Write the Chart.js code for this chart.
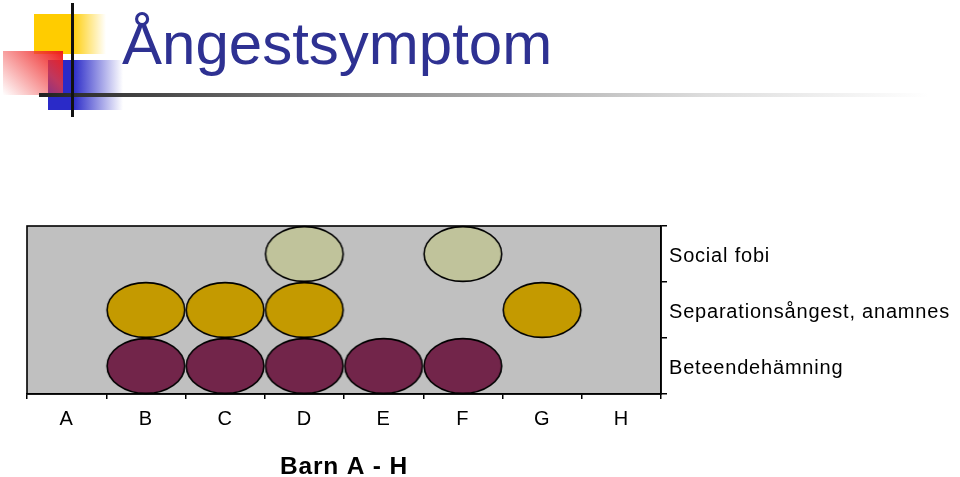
<!DOCTYPE html>
<html lang="sv">
<head>
<meta charset="UTF-8">
<title>Ångestsymptom</title>
<script src="https://cdn.jsdelivr.net/npm/chart.js"></script>
<style>
  html, body { margin: 0; padding: 0; background: #fff; }
  #wrap { position: relative; width: 960px; height: 477px; overflow: hidden; }
  .deco { position: absolute; }
  #yellow { left: 34px; top: 14px; width: 72px; height: 40px;
    background: linear-gradient(to right, #ffcc00 0%, #ffcc00 52%, rgba(255,204,0,0) 100%); }
  #blue { left: 48px; top: 60px; width: 75px; height: 50px;
    background: linear-gradient(to right, #2a2ac8 0%, #2a2ac8 33%, rgba(42,42,200,0) 100%); }
  #red { left: 3px; top: 51px; width: 60px; height: 44px;
    background: linear-gradient(225deg, #ee1c1c 0%, rgba(240,60,60,0.75) 35%, rgba(255,255,255,0) 100%); }
  #hline { left: 39px; top: 93px; width: 890px; height: 4px;
    background: linear-gradient(to right, #222 0%, #888 35%, #ddd 75%, rgba(255,255,255,0) 100%); }
  #vline { left: 71px; top: 3px; width: 3px; height: 114px; background: #111; }
  #title { position: absolute; left: 122px; top: 14px; margin: 0;
    font: 60px/60px "Liberation Sans", Arial, sans-serif; color: #2e3192; font-weight: normal; }
  canvas { position: absolute; left: 0; top: 0; }
</style>
</head>
<body>
<div id="wrap">
  <div class="deco" id="yellow"></div>
  <div class="deco" id="blue"></div>
  <div class="deco" id="red"></div>
  <div class="deco" id="hline"></div>
  <div class="deco" id="vline"></div>
  <h1 id="title">Ångestsymptom</h1>
  <canvas id="chart" width="960" height="477"></canvas>
</div>

<script>
  const children = ['A', 'B', 'C', 'D', 'E', 'F', 'G', 'H'];
  // top to bottom
  const symptoms = ['Social fobi', 'Separationsångest, anamnes', 'Beteendehämning'];
  const socialFobi        = [0, 0, 0, 1, 0, 1, 0, 0];
  const separationsangest = [0, 1, 1, 1, 0, 0, 1, 0];
  const beteendehamning   = [0, 1, 1, 1, 1, 1, 0, 0];

  const seriesColors = ['#c0c39b', '#c49a00', '#72254a'];

  function ellipse(color) {
    const c = document.createElement('canvas');
    c.width = 82; c.height = 60;
    const g = c.getContext('2d');
    g.beginPath();
    g.ellipse(41, 30, 38.8, 27.4, 0, 0, Math.PI * 2);
    g.fillStyle = color;
    g.fill();
    g.lineWidth = 1.6;
    g.strokeStyle = '#000';
    g.stroke();
    return c;
  }

  function points(values, row) {
    const out = [];
    values.forEach((v, i) => { if (v) out.push({ x: children[i], y: row }); });
    return out;
  }

  const plotBox = {
    id: 'plotBox',
    beforeDraw(chart) {
      chart.ctx.letterSpacing = '0.8px';
      const a = chart.chartArea, ctx = chart.ctx;
      ctx.save();
      ctx.fillStyle = '#c0c0c0';
      ctx.fillRect(a.left, a.top, a.right - a.left, a.bottom - a.top);
      ctx.restore();
    },
    beforeDatasetsDraw(chart) {
      const a = chart.chartArea, ctx = chart.ctx;
      ctx.save();
      ctx.strokeStyle = '#000';
      ctx.lineWidth = 1.6;
      ctx.strokeRect(a.left, a.top, a.right - a.left, a.bottom - a.top);
      ctx.restore();
    }
  };

  new Chart(document.getElementById('chart'), {
    type: 'scatter',
    data: {
      datasets: [
        { label: symptoms[0], data: points(socialFobi, symptoms[0]), pointStyle: ellipse(seriesColors[0]) },
        { label: symptoms[1], data: points(separationsangest, symptoms[1]), pointStyle: ellipse(seriesColors[1]) },
        { label: symptoms[2], data: points(beteendehamning, symptoms[2]), pointStyle: ellipse(seriesColors[2]) }
      ]
    },
    options: {
      responsive: false,
      animation: false,
      clip: false,
      layout: { padding: { left: 27, top: 226, right: 0, bottom: 0 } },
      plugins: { legend: { display: false }, tooltip: { enabled: false } },
      scales: {
        x: {
          type: 'category',
          labels: children,
          offset: true,
          grid: { offset: true, drawOnChartArea: false, color: '#000', lineWidth: 1.5, tickLength: 5 },
          border: { color: '#000', width: 1.6 },
          ticks: { color: '#000', padding: 8, font: { family: 'Liberation Sans, Arial', size: 20 } },
          title: { display: true, text: 'Barn A - H', color: '#000', padding: { top: 0, bottom: 1 },
            font: { family: 'Liberation Sans, Arial', size: 24.5, weight: 'bold', lineHeight: 0.75 } },
          afterFit(s) { s.height = 83; }
        },
        y: {
          type: 'category',
          labels: symptoms,
          position: 'right',
          offset: true,
          grid: { offset: true, drawOnChartArea: false, color: '#000', lineWidth: 1.5, tickLength: 6 },
          border: { color: '#000', width: 1.6 },
          ticks: { color: '#000', padding: 2, labelOffset: 2.5, crossAlign: 'near',
            font: { family: 'Liberation Sans, Arial', size: 20 } },
          afterFit(s) { s.width = 299; }
        }
      }
    },
    plugins: [plotBox]
  });
</script>
</body>
</html>
